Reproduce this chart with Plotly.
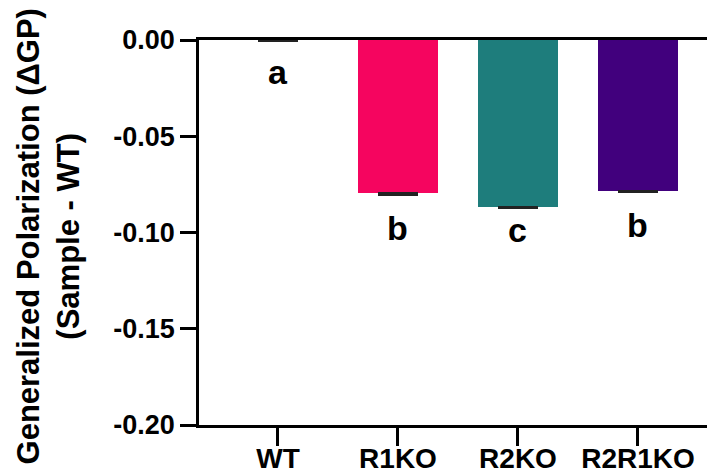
import plotly.graph_objects as go

categories = ["WT", "R1KO", "R2KO", "R2R1KO"]
values = [0.0, -0.0795, -0.0868, -0.0783]
errors = [0.0005, 0.0009, 0.0007, 0.0007]
colors = ["#FFFFFF", "#F5055F", "#1E7D7C", "#41007D"]
letters = ["a", "b", "c", "b"]
letter_y = [-0.0165, -0.0978, -0.0986, -0.0962]
y_ticks = [0.0, -0.05, -0.10, -0.15, -0.20]
y_ticktext = ["0.00", "-0.05", "-0.10", "-0.15", "-0.20"]

FONT = "Liberation Sans, Arial, sans-serif"

fig = go.Figure()
fig.add_trace(go.Bar(
    x=categories, y=values, width=0.667,
    marker=dict(color=colors, line=dict(width=0)),
    error_y=dict(type="data", symmetric=False, array=[0]*len(errors),
                 arrayminus=errors, color="#222222", thickness=1.5, width=20),
))

for c, t, yy in zip(categories, letters, letter_y):
    fig.add_annotation(x=c, y=yy, text=t, showarrow=False, xref="x", yref="y",
                       yanchor="middle", xanchor="center",
                       font=dict(family=FONT, size=34, color="black", weight="bold"))

fig.add_annotation(xref="paper", yref="paper", x=-0.297, y=0.49,
                   text="Generalized Polarization (ΔGP)<br>(Sample - WT)",
                   textangle=-90, showarrow=False, xanchor="center", yanchor="middle",
                   font=dict(family=FONT, size=31, color="black", weight="bold"))

fig.update_layout(
    width=707, height=476,
    margin=dict(l=199, r=0, t=40, b=50.5, autoexpand=False),
    plot_bgcolor="white", paper_bgcolor="white",
    showlegend=False, bargap=0,
)
fig.update_xaxes(
    range=[-0.658, 3.575], showline=True, linecolor="black", linewidth=2.5,
    mirror=True, ticks="outside", ticklen=18, tickwidth=2.5, tickcolor="black",
    showgrid=False, zeroline=False, automargin=False, ticklabelstandoff=-11,
    tickfont=dict(family=FONT, size=28, color="black", weight="bold"),
)
fig.update_yaxes(
    range=[-0.2, 0], tickvals=y_ticks, ticktext=y_ticktext,
    showline=True, linecolor="black", linewidth=2.5,
    ticks="outside", ticklen=16, tickwidth=2.5, tickcolor="black",
    showgrid=False, zeroline=False, automargin=False,
    tickfont=dict(family=FONT, size=27, color="black", weight="bold"),
)

fig.write_html("out.html")
